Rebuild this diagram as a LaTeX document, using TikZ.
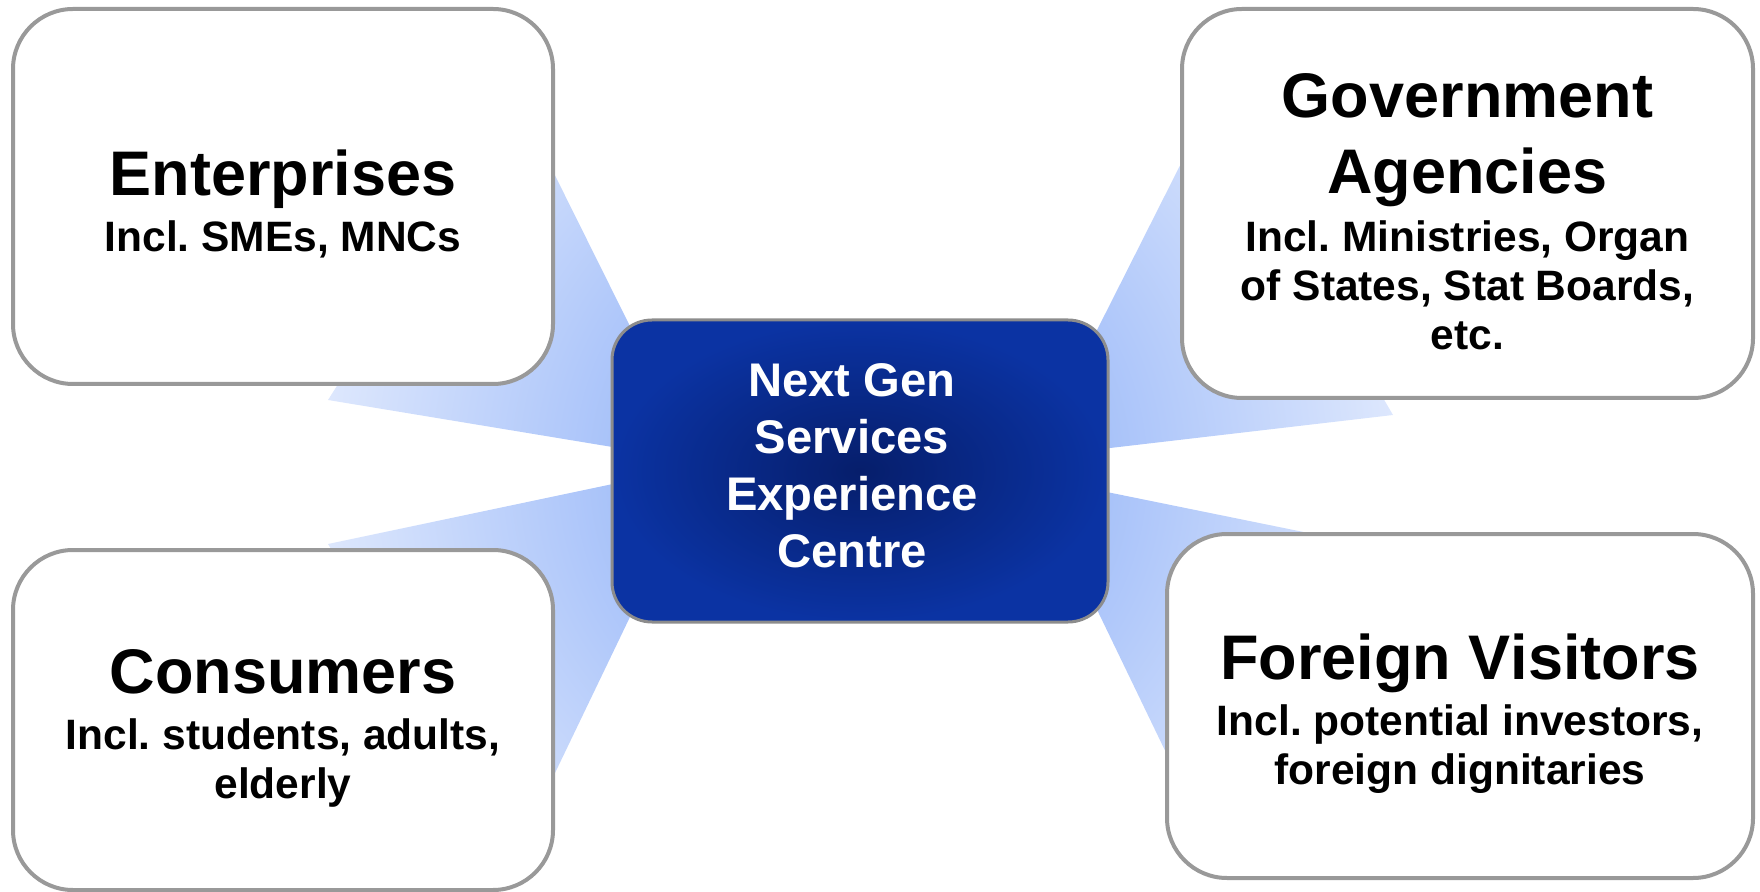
\documentclass[tikz,border=0pt]{standalone}
\usepackage{fontspec}
\setmainfont{Liberation Sans}[Kerning=Off, WordSpace={1,0,0}]
\definecolor{beamin}{HTML}{7BA3F6}
\definecolor{beamout}{HTML}{FBFCFF}
\definecolor{hubin}{HTML}{061E6B}
\definecolor{hubout}{HTML}{0B33A3}
\newcommand{\headfont}{\fontsize{31.5}{38.2}\selectfont\frenchspacing\spaceskip=0pt\xspaceskip=0pt\rule{0pt}{30.5pt}}
\newcommand{\notefont}{\fontsize{21.25}{24.5}\selectfont\frenchspacing\spaceskip=0pt\xspaceskip=0pt}

\begin{document}
\begin{tikzpicture}[x=0.5pt, y=-0.5pt,
        audience/.style = {draw=black!40, line width=2pt, fill=white, rounded corners=30pt, inner sep=0pt, align=center, font=\bfseries},
        hub/.style = {draw=black!45, line width=1.5pt, rounded corners=20pt, inner sep=0pt, text width=248pt, minimum height=151pt,
                      inner color=hubin, outer color=hubout, text=white, align=center, font=\bfseries\fontsize{23.6}{28.5}\selectfont},
        ]
        \useasboundingbox (0,0) rectangle (1760,892);

        \begin{scope}
            \clip (697,461) -- (518,101) -- (328,400) -- cycle
                  (1033,457) -- (1211,104) -- (1393,415) -- cycle
                  (703,465) -- (328,544) -- (518,850) -- cycle
                  (1033,477) -- (1392,550) -- (1213,850) -- cycle;
            \shade[inner color=beamin, outer color=beamout] (860,471) circle (700);
        \end{scope}

        \node [audience, text width=270pt, minimum height=187.5pt] (enterprises) at (283,196.5)
            {\headfont Enterprises\par\vspace{3.5pt}\notefont Incl. SMEs, MNCs\par};
        \node [audience, text width=285.5pt, minimum height=194.5pt] (government) at (1467.5,203.5)
            {\headfont Government\\Agencies\par\vspace{4.5pt}\notefont Incl. Ministries, Organ\\of States, Stat Boards,\\etc.\par};
        \node [audience, text width=270pt, minimum height=170pt] (consumers) at (283,720)
            {\headfont Consumers\par\vspace{3.5pt}\notefont Incl. students, adults,\\elderly\par};
        \node [audience, text width=293pt, minimum height=172pt] (visitors) at (1460,706)
            {\headfont Foreign Visitors\par\vspace{3.5pt}\notefont Incl. potential investors,\\foreign dignitaries\par};
        \node [hub] (centre) at (860,471)
            {\leftskip=0pt plus 1fil\rightskip=8pt plus 1fil\parfillskip=0pt\frenchspacing\spaceskip=0pt\xspaceskip=0pt
             Next Gen\\Services\\Experience\\Centre\par\vspace*{5.5pt}};

    \end{tikzpicture}
\end{document}
